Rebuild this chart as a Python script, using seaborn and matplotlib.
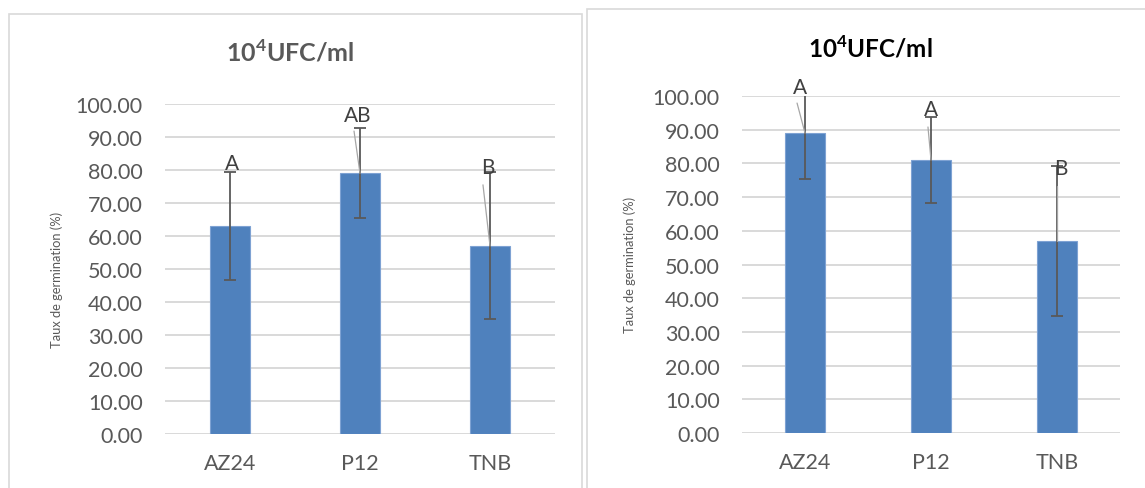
import numpy as np
import pandas as pd
import matplotlib
matplotlib.use("Agg")
import matplotlib.pyplot as plt
import matplotlib.patches as patches
import seaborn as sns

# data
souches = ["AZ24", "P12", "TNB"]

taux_gauche = [63.0, 79.0, 57.0]
err_gauche = [16.3, 13.6, 22.3]
lettres_gauche = ["A", "AB", "B"]

taux_droite = [89.0, 81.0, 57.0]
err_droite = [13.6, 12.8, 22.2]
lettres_droite = ["A", "A", "B"]

yticks = [0, 10, 20, 30, 40, 50, 60, 70, 80, 90, 100]

# label placement (x, y) and leader-line starts, as in the picture
pos_lettres_gauche = [(0.015, 82.0), (0.98, 96.8), (1.98, 81.0)]
leaders_gauche = [None, (0.954, 91.8), (1.946, 75.5)]
pos_lettres_droite = [(-0.04, 102.8), (1.0, 96.0), (2.03, 78.5)]
leaders_droite = [(-0.063, 97.9), (0.976, 90.8), (2.0, 73.3)]

sns.set_style("white")
plt.rcParams["font.family"] = ["Lato", "DejaVu Sans"]
plt.rcParams["mathtext.fontset"] = "custom"
plt.rcParams["mathtext.rm"] = "Lato"
plt.rcParams["mathtext.bf"] = "Lato:bold"

bleu = "#4f81bd"
gris_txt = "#595959"
gris_grille = "#d9d9d9"

fig = plt.figure(figsize=(11.45, 4.89), dpi=100)

# chart frames
fig.patches.append(patches.Rectangle((9 / 1145, -0.01), 573 / 1145, 1 - 15 / 489 + 0.01,
                                     transform=fig.transFigure, fill=False,
                                     edgecolor=gris_grille, linewidth=1.2))
fig.patches.append(patches.Rectangle((587 / 1145, -0.01), 0.5, 1 - 10 / 489 + 0.01,
                                     transform=fig.transFigure, fill=False,
                                     edgecolor=gris_grille, linewidth=1.2))

ax1 = fig.add_axes([165 / 1145, 54 / 489, 390 / 1145, 330 / 489])
ax2 = fig.add_axes([742 / 1145, 55 / 489, 378 / 1145, 337 / 489])


def panneau(ax, valeurs, erreurs, lettres, pos, leaders, largeur):
    df = pd.DataFrame({"souche": souches, "taux": valeurs})
    ax.set_axisbelow(True)
    ax.yaxis.grid(True, color=gris_grille, linewidth=1.4)
    sns.barplot(data=df, x="souche", y="taux", color=bleu, saturation=1,
                width=largeur, errorbar=None, edgecolor="#7ea2d3", linewidth=0.8, ax=ax)
    ax.errorbar(np.arange(len(souches)), valeurs, yerr=erreurs, fmt="none",
                ecolor=gris_txt, elinewidth=1.3, capsize=4.3, capthick=1.3)
    for i, v in enumerate(valeurs):
        if leaders[i] is not None:
            ax.plot([leaders[i][0], i], [leaders[i][1], v], color="#a6a6a6",
                    linewidth=0.9, zorder=3)
        ax.text(pos[i][0], pos[i][1], lettres[i], ha="center", va="center",
                fontsize=15, color="#404040", clip_on=False)
    ax.set_ylim(0, 100)
    ax.set_xlim(-0.5, 2.5)
    ax.set_yticks(yticks)
    ax.set_yticklabels([f"{t:.2f}" for t in yticks])
    ax.set_xlabel("")
    ax.set_ylabel("")
    ax.tick_params(axis="both", length=0, labelsize=15.5, labelcolor=gris_txt)
    ax.tick_params(axis="y", pad=16)
    ax.tick_params(axis="x", pad=14)
    sns.despine(ax=ax, left=True, bottom=True)


panneau(ax1, taux_gauche, err_gauche, lettres_gauche, pos_lettres_gauche, leaders_gauche, 0.31)
panneau(ax2, taux_droite, err_droite, lettres_droite, pos_lettres_droite, leaders_droite, 0.32)

titre = r"10$^{\mathbf{4}}$UFC/ml"
fig.text(290 / 1145, 1 - 52 / 489, titre, ha="center", va="center",
         fontsize=18, fontweight="bold", color=gris_txt)
fig.text(870 / 1145, 1 - 48 / 489, titre, ha="center", va="center",
         fontsize=17.5, fontweight="bold", color="black")

fig.text(57 / 1145, 1 - 280 / 489, "Taux de germination (%)", rotation=90,
         ha="center", va="center", fontsize=9.3, color=gris_txt)
fig.text(630 / 1145, 1 - 265 / 489, "Taux de germination (%)", rotation=90,
         ha="center", va="center", fontsize=9.3, color=gris_txt)

fig.savefig("out.png", dpi=100)
